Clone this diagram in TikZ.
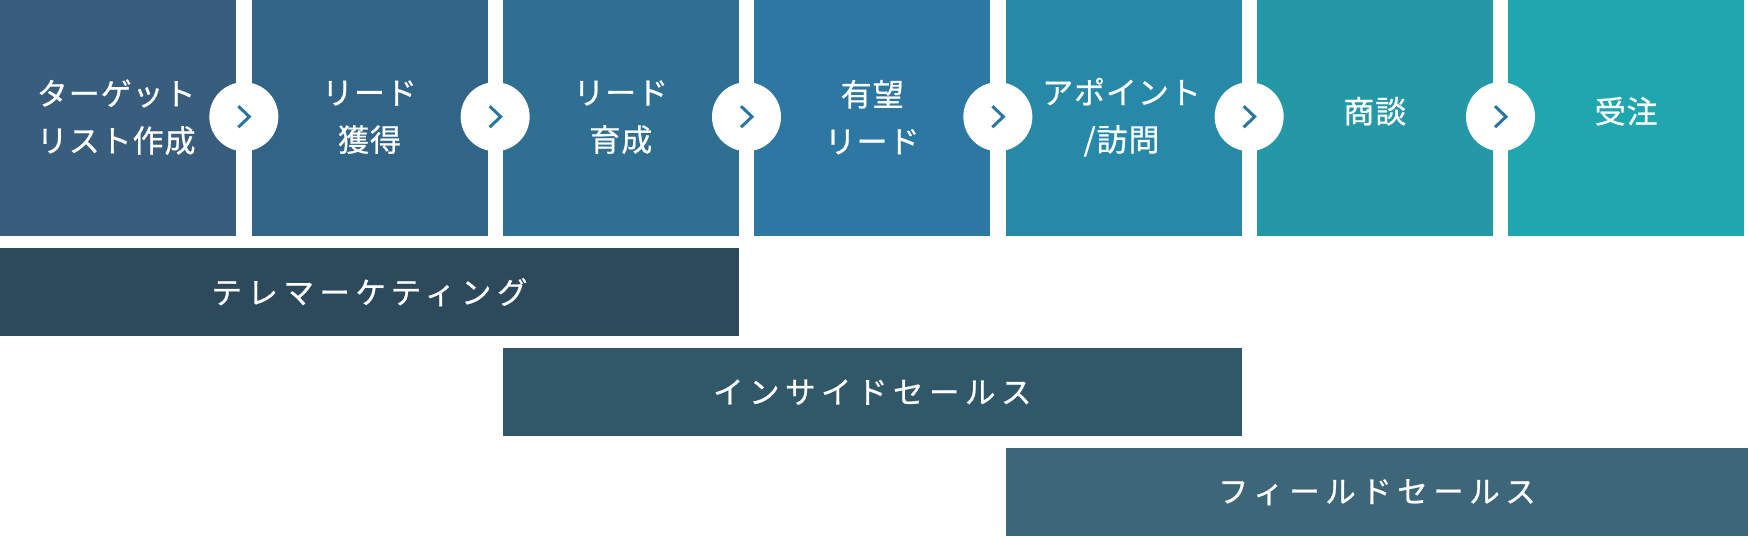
\documentclass[tikz,border=0pt]{standalone}
\usepackage{fontspec}
\usetikzlibrary{calc}
\newfontfamily\jpbox[LetterSpace=3,FakeBold=0.7]{Noto Sans CJK JP}
\newfontfamily\jpbar[LetterSpace=18,FakeBold=0.7]{Noto Sans CJK JP}
\definecolor{cA}{HTML}{395D7C}
\definecolor{cB}{HTML}{326487}
\definecolor{cC}{HTML}{2E6F92}
\definecolor{cD}{HTML}{2C78A2}
\definecolor{cE}{HTML}{2788A8}
\definecolor{cF}{HTML}{2598A8}
\definecolor{cG}{HTML}{20A6AE}
\definecolor{bA}{HTML}{2C4A5B}
\definecolor{bB}{HTML}{315869}
\definecolor{bC}{HTML}{3D6679}
\definecolor{chev}{HTML}{2B75A3}
\tikzset{
  stagebox/.style={anchor=north west, fill=#1, draw=none, inner sep=0pt,
    minimum width=236pt, minimum height=236pt},
  stagetext/.style={inner sep=0pt, text=white, align=center,
    font=\jpbox\fontsize{31pt}{47pt}\selectfont},
  phasebar/.style={anchor=north west, fill=#1, draw=none, inner sep=0pt,
    minimum height=88pt, text=white, font=\jpbar\fontsize{30.5pt}{32pt}\selectfont},
  joint/.style={circle, fill=white, draw=none, minimum size=69pt, inner sep=0pt},
  chevline/.style={draw=chev, line width=3pt, line cap=butt, line join=miter}
}
\begin{document}
\begin{tikzpicture}[x=1pt,y=-1pt]
\useasboundingbox[fill=white] (0,0) rectangle (1748,536);
% stage boxes
\node[stagebox=cA] (s1) at (0,0) {};
\node[stagebox=cB] (s2) at (251.3,0) {};
\node[stagebox=cC] (s3) at (502.6,0) {};
\node[stagebox=cD] (s4) at (754,0) {};
\node[stagebox=cE] (s5) at (1005.3,0) {};
\node[stagebox=cF] (s6) at (1256.6,0) {};
\node[stagebox=cG] (s7) at (1508,0) {};
% stage labels
\node[stagetext] (t1) at ($(s1.center)+(-2,-1)$) {ターゲット\\リスト作成};
\node[stagetext] (t2) at ($(s2.center)+(0,-1)$) {リード\\獲得};
\node[stagetext] (t3) at ($(s3.center)+(0,-1)$) {リード\\育成};
\node[stagetext] (t4) at ($(s4.center)+(0,-1)$) {有望\\リード};
\node[stagetext] (t5) at ($(s5.center)+(-2,-1)$) {アポイント\\/訪問};
\node[stagetext] (t6) at ($(s6.center)+(0,-7)$) {商談};
\node[stagetext] (t7) at ($(s7.center)+(0,-7)$) {受注};
% joints with chevrons
\foreach \a/\b/\n in {s1/s2/j1,s2/s3/j2,s3/s4/j3,s4/s5/j4,s5/s6/j5,s6/s7/j6}{
  \node[joint] (\n) at ($(\a.east)!0.5!(\b.west)+(0,-1.5)$) {};
  \draw[chevline] ($(\n.center)+(-5.5,-10.5)$) -- ($(\n.center)+(5.5,0)$) -- ($(\n.center)+(-5.5,10.5)$);
}
% phase bars
\node[phasebar=bA, minimum width=738.6pt] (p1) at (0,248) {テレマーケティング};
\node[phasebar=bB, minimum width=739pt] (p2) at (502.6,348) {インサイドセールス};
\node[phasebar=bC, minimum width=742.7pt] (p3) at (1005.3,448) {フィールドセールス};
\end{tikzpicture}
\end{document}
